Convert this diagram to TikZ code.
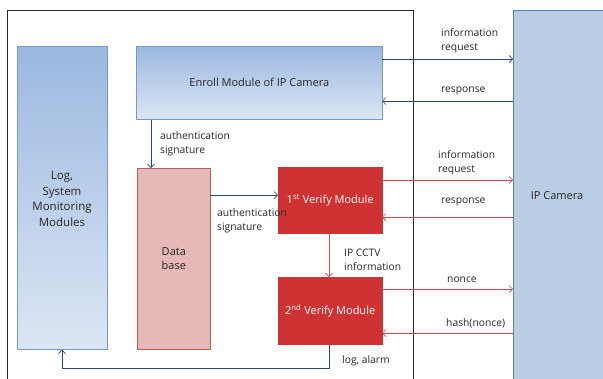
\documentclass[tikz,border=0pt]{standalone}
\usepackage{fontspec}
\setmainfont{Open Sans}
\usetikzlibrary{arrows.meta}
\definecolor{navy}{HTML}{2E4670}
\definecolor{redline}{HTML}{C0504D}
\definecolor{gradtop}{HTML}{9BB8E0}
\definecolor{gradbot}{HTML}{DCE6F4}
\definecolor{bluebord}{HTML}{7D98C0}
\definecolor{camfill}{HTML}{B9CDE5}
\definecolor{camborder}{HTML}{5B7FB0}
\definecolor{dbfill}{HTML}{E6B8B7}
\definecolor{dbborder}{HTML}{B5605E}
\definecolor{verfill}{HTML}{CF3232}
\definecolor{txt}{HTML}{262626}
\tikzset{
  gradbox/.style={draw=bluebord, top color=gradtop, bottom color=gradbot, line width=0.6pt, font=\fontsize{11}{14}\selectfont, text=txt, align=center, inner sep=0pt},
  dbbox/.style={draw=dbborder, fill=dbfill, line width=0.6pt, font=\fontsize{11}{14.5}\selectfont, text=txt, align=center, inner sep=0pt},
  verbox/.style={draw=verfill, fill=verfill, font=\fontsize{11}{14}\selectfont, text=white, align=center, inner sep=0pt},
  cambox/.style={draw=camborder, fill=camfill, line width=0.6pt, font=\fontsize{11}{14}\selectfont, text=txt, inner sep=0pt},
  lbl/.style={font=\fontsize{10.3}{14.5}\selectfont, text=txt, align=left, anchor=west, inner sep=0pt},
  bluearr/.style={draw=navy, line width=0.7pt, -{Straight Barb[length=3.5pt,width=7pt]}},
  redarr/.style={draw=redline, line width=0.7pt, -{Straight Barb[length=3.5pt,width=7pt]}},
}
\begin{document}
\begin{tikzpicture}[x=1pt,y=-1pt]
\useasboundingbox (0,0) rectangle (603,378);
\fill[white] (0,0) rectangle (603,378);
% outer frame
\draw[black!85, line width=0.7pt] (7,400) -- (7,10) -- (413,10) -- (413,400);
% IP camera
\node[cambox, minimum width=92pt, minimum height=380pt, anchor=north west] (cam) at (513,10) {};
\node[font=\fontsize{11}{14}\selectfont, text=txt] (camtxt) at (557,196) {IP Camera};
% log box
\node[gradbox, minimum width=90pt, minimum height=303pt, anchor=north west] (log) at (17,46) {};
\node[font=\fontsize{11.5}{15.7}\selectfont, text=txt, align=center] (logtxt) at (62,199) {Log,\\System\\Monitoring\\Modules};
% enroll
\node[gradbox, minimum width=246pt, minimum height=73pt, anchor=north west] (enroll) at (136,46) {Enroll Module of IP Camera};
% database
\node[dbbox, minimum width=73pt, minimum height=181pt, anchor=north west] (db) at (137,168) {Data\\base};
% verify modules
\node[verbox, minimum width=104pt, minimum height=66pt, anchor=north west] (v1) at (278,167) {1\textsuperscript{st} Verify Module};
\node[verbox, minimum width=104pt, minimum height=67pt, anchor=north west] (v2) at (278,277) {2\textsuperscript{nd} Verify Module};
% coordinates
\coordinate (e1) at (382,59);
\coordinate (c1) at (513,59);
\coordinate (e2) at (382,101);
\coordinate (c2) at (513,101);
\coordinate (v1a) at (382,180);
\coordinate (c3) at (513,180);
\coordinate (v1b) at (382,217);
\coordinate (c4) at (513,217);
\coordinate (v2a) at (382,289);
\coordinate (c5) at (513,289);
\coordinate (v2b) at (382,333);
\coordinate (c6) at (513,333);
% blue arrows
\draw[bluearr] (e1) -- (c1);
\draw[bluearr] (c2) -- (e2);
\draw[bluearr] (enroll.south west -| 151,0) -- (151,168);
\draw[bluearr] (210,195) -- (v1.west |- 0,195);
\draw[bluearr] (329,344) -- (329,368) -- (62,368) -- (log.south -| 62,0);
% red arrows
\draw[redarr] (v1a) -- (c3);
\draw[redarr] (c4) -- (v1b);
\draw[redarr] (v2a) -- (c5);
\draw[redarr] (c6) -- (v2b);
\draw[redarr] (v1.south -| 329,0) -- (v2.north -| 329,0);
% labels
\node[lbl, align=left] (l1) at (441,41) {information\\request};
\node[lbl] (l2) at (441,91) {response};
\node[lbl, align=left] (l3) at (438,163) {information\\request};
\node[lbl] (l4) at (441,202) {response};
\node[lbl] (l5) at (447,280) {nonce};
\node[lbl] (l6) at (446,323) {hash(nonce)};
\node[lbl, align=left] (l7) at (160,144) {authentication\\signature};
\node[lbl, align=left] (l8) at (217,221) {authentication\\signature};
\node[lbl, align=left] (l9) at (344,260) {IP CCTV\\information};
\node[lbl] (l10) at (342,361) {log, alarm};
\end{tikzpicture}
\end{document}
